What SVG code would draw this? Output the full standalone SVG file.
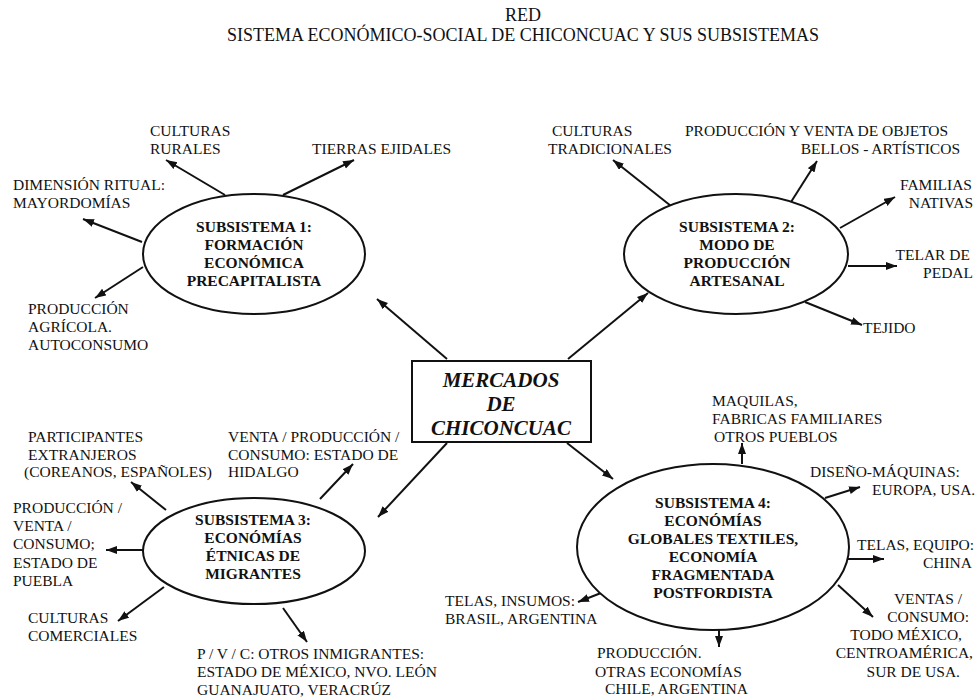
<svg xmlns="http://www.w3.org/2000/svg" width="979" height="697" viewBox="0 0 979 697">
<style>
text{font-family:'Liberation Serif','Times New Roman',Tinos,Times,'DejaVu Serif',serif;fill:#111;}
.t{font-size:18px;text-anchor:middle;}
.l{font-size:15.5px;}
.e{font-size:15.5px;text-anchor:end;}
.b{font-size:15.5px;font-weight:bold;text-anchor:middle;}
.m{font-size:21px;font-weight:bold;font-style:italic;text-anchor:middle;}
.shape{fill:#fff;stroke:#111;stroke-width:2;}
.c line{stroke:#111;stroke-width:2;marker-end:url(#ah);}
</style>
<defs>
<marker id="ah" markerUnits="userSpaceOnUse" markerWidth="12" markerHeight="9" refX="11" refY="4" orient="auto">
<path d="M0,0 L11,4 L0,8 z" fill="#111"/>
</marker>
</defs>
<rect width="979" height="697" fill="#fff"/>
<g id="title">
<text class="t" x="523" y="21">RED</text>
<text class="t" x="523" y="41">SISTEMA ECONÓMICO-SOCIAL DE CHICONCUAC Y SUS SUBSISTEMAS</text>
</g>
<g id="connectors" class="c">
<line x1="447" y1="359" x2="377" y2="299"/>
<line x1="568" y1="359" x2="648" y2="293"/>
<line x1="447" y1="443" x2="378" y2="517"/>
<line x1="567" y1="443" x2="613" y2="479"/>
<line x1="225" y1="195" x2="166" y2="160"/>
<line x1="283" y1="195" x2="354" y2="160"/>
<line x1="142" y1="242" x2="83" y2="219"/>
<line x1="143" y1="267" x2="95" y2="298"/>
<line x1="671" y1="206" x2="613" y2="160"/>
<line x1="791" y1="202" x2="817" y2="161"/>
<line x1="840" y1="228" x2="895" y2="197"/>
<line x1="848" y1="266" x2="897" y2="266"/>
<line x1="805" y1="302" x2="862" y2="325"/>
<line x1="166" y1="510" x2="131" y2="482"/>
<line x1="320" y1="499" x2="353" y2="464"/>
<line x1="143" y1="550" x2="106" y2="550"/>
<line x1="164" y1="587" x2="118" y2="621"/>
<line x1="283" y1="608" x2="307" y2="642"/>
<line x1="742" y1="464" x2="742" y2="443"/>
<line x1="825" y1="498" x2="860" y2="487"/>
<line x1="848" y1="559" x2="884" y2="559"/>
<line x1="838" y1="585" x2="873" y2="617"/>
<line x1="719" y1="630" x2="719" y2="647"/>
<line x1="601" y1="593" x2="578" y2="602"/>
</g>
<g id="mercados">
<rect class="shape" x="412" y="361" width="179" height="81"/>
<text class="m" x="501" y="387">MERCADOS</text>
<text class="m" x="501" y="411">DE</text>
<text class="m" x="501" y="435">CHICONCUAC</text>
</g>
<g id="sub1">
<ellipse class="shape" cx="254" cy="254" rx="111" ry="60"/>
<text class="b" x="254" y="232">SUBSISTEMA 1:</text>
<text class="b" x="254" y="250">FORMACIÓN</text>
<text class="b" x="254" y="268">ECONÓMICA</text>
<text class="b" x="254" y="286">PRECAPITALISTA</text>
</g>
<g id="sub2">
<ellipse class="shape" cx="736" cy="254" rx="112" ry="60"/>
<text class="b" x="737" y="232">SUBSISTEMA 2:</text>
<text class="b" x="737" y="250">MODO DE</text>
<text class="b" x="737" y="268">PRODUCCIÓN</text>
<text class="b" x="737" y="286">ARTESANAL</text>
</g>
<g id="sub3">
<ellipse class="shape" cx="254" cy="551" rx="111" ry="53"/>
<text class="b" x="253" y="525">SUBSISTEMA 3:</text>
<text class="b" x="253" y="543">ECONÓMÍAS</text>
<text class="b" x="253" y="561">ÉTNICAS DE</text>
<text class="b" x="253" y="579">MIGRANTES</text>
</g>
<g id="sub4">
<ellipse class="shape" cx="713" cy="547" rx="136" ry="83"/>
<text class="b" x="713" y="508">SUBSISTEMA 4:</text>
<text class="b" x="713" y="526">ECONÓMÍAS</text>
<text class="b" x="713" y="544">GLOBALES TEXTILES,</text>
<text class="b" x="713" y="562">ECONOMÍA</text>
<text class="b" x="713" y="580">FRAGMENTADA</text>
<text class="b" x="713" y="598">POSTFORDISTA</text>
</g>
<g id="culturas-rurales"><text class="l" x="150" y="136">CULTURAS</text><text class="l" x="150" y="154">RURALES</text></g>
<g id="tierras-ejidales"><text class="l" x="312" y="154">TIERRAS EJIDALES</text></g>
<g id="dimension-ritual"><text class="l" x="13" y="190">DIMENSIÓN RITUAL:</text><text class="l" x="13" y="208">MAYORDOMÍAS</text></g>
<g id="produccion-agricola"><text class="l" x="28" y="314">PRODUCCIÓN</text><text class="l" x="28" y="332">AGRÍCOLA.</text><text class="l" x="28" y="350">AUTOCONSUMO</text></g>
<g id="culturas-tradicionales"><text class="l" x="552" y="136">CULTURAS</text><text class="l" x="548" y="154">TRADICIONALES</text></g>
<g id="objetos-bellos"><text class="l" x="685" y="136">PRODUCCIÓN Y VENTA DE OBJETOS</text><text class="e" x="960" y="154">BELLOS - ARTÍSTICOS</text></g>
<g id="familias-nativas"><text class="e" x="972" y="190">FAMILIAS</text><text class="e" x="973" y="208">NATIVAS</text></g>
<g id="telar-pedal"><text class="e" x="970" y="260">TELAR DE</text><text class="e" x="973" y="278">PEDAL</text></g>
<g id="tejido"><text class="l" x="863" y="333">TEJIDO</text></g>
<g id="participantes"><text class="l" x="28" y="442">PARTICIPANTES</text><text class="l" x="28" y="460">EXTRANJEROS</text><text class="l" x="24" y="477">(COREANOS, ESPAÑOLES)</text></g>
<g id="hidalgo"><text class="l" x="228" y="442">VENTA / PRODUCCIÓN /</text><text class="l" x="228" y="460">CONSUMO: ESTADO DE</text><text class="l" x="228" y="477">HIDALGO</text></g>
<g id="puebla"><text class="l" x="13" y="513">PRODUCCIÓN /</text><text class="l" x="13" y="531">VENTA /</text><text class="l" x="13" y="549">CONSUMO;</text><text class="l" x="13" y="568">ESTADO DE</text><text class="l" x="13" y="586">PUEBLA</text></g>
<g id="culturas-comerciales"><text class="l" x="28" y="623">CULTURAS</text><text class="l" x="28" y="641">COMERCIALES</text></g>
<g id="otros-inmigrantes"><text class="l" x="197" y="659">P / V / C: OTROS INMIGRANTES:</text><text class="l" x="197" y="677">ESTADO DE MÉXICO, NVO. LEÓN</text><text class="l" x="197" y="695">GUANAJUATO, VERACRÚZ</text></g>
<g id="maquilas"><text class="l" x="712" y="406">MAQUILAS,</text><text class="l" x="712" y="424">FABRICAS FAMILIARES</text><text class="l" x="714" y="442">OTROS PUEBLOS</text></g>
<g id="diseno-maquinas"><text class="l" x="810" y="477">DISEÑO-MÁQUINAS:</text><text class="l" x="872" y="495">EUROPA, USA.</text></g>
<g id="telas-china"><text class="l" x="857" y="550">TELAS, EQUIPO:</text><text class="e" x="972" y="568">CHINA</text></g>
<g id="ventas-consumo"><text class="e" x="962" y="604">VENTAS /</text><text class="e" x="969" y="622">CONSUMO:</text><text class="e" x="962" y="640">TODO MÉXICO,</text><text class="e" x="973" y="658">CENTROAMÉRICA,</text><text class="e" x="960" y="677">SUR DE USA.</text></g>
<g id="produccion-otras"><text class="l" x="597" y="658">PRODUCCIÓN.</text><text class="l" x="595" y="677">OTRAS ECONOMÍAS</text><text class="l" x="605" y="694">CHILE, ARGENTINA</text></g>
<g id="telas-insumos"><text class="l" x="445" y="606">TELAS, INSUMOS:</text><text class="l" x="445" y="624">BRASIL, ARGENTINA</text></g>
</svg>
